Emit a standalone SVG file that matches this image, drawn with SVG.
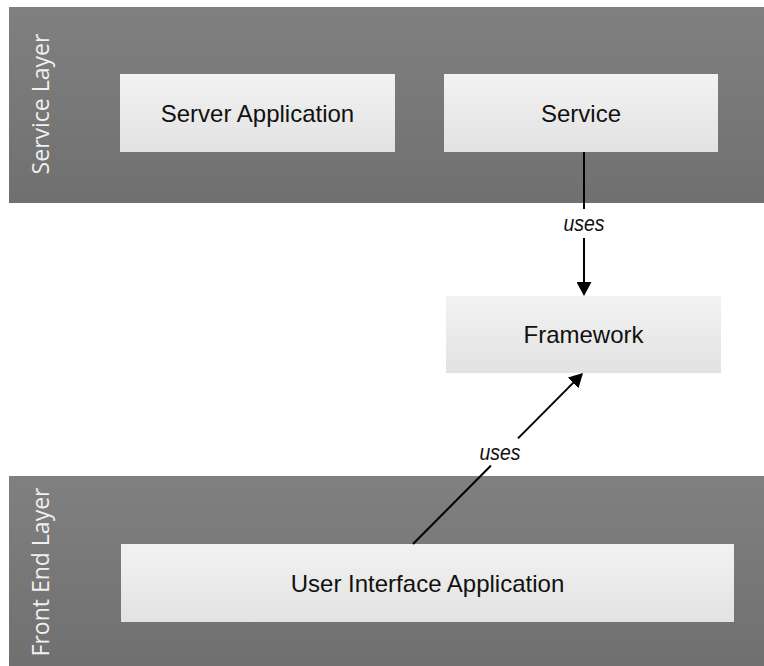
<svg xmlns="http://www.w3.org/2000/svg" width="764" height="666" viewBox="0 0 764 666">
  <defs>
    <linearGradient id="bandFill" x1="0" y1="0" x2="0" y2="1">
      <stop offset="0" stop-color="#808080"/>
      <stop offset="1" stop-color="#707070"/>
    </linearGradient>
    <linearGradient id="boxFill" x1="0" y1="0" x2="0" y2="1">
      <stop offset="0" stop-color="#f2f2f2"/>
      <stop offset="1" stop-color="#e2e2e2"/>
    </linearGradient>
    <marker id="arrow" viewBox="0 0 14 15" markerUnits="userSpaceOnUse" markerWidth="14" markerHeight="15" refX="12" refY="7.5" orient="auto">
      <path d="M0,0 L14,7.5 L0,15 z" fill="#000"/>
    </marker>
  </defs>
  <style>
    .band { fill: url(#bandFill); }
    .box { fill: url(#boxFill); }
    .layer-label { font-family: "Open Sans", "DejaVu Sans", sans-serif; font-size: 23px; fill: #f0f0f0; text-anchor: middle; }
    .label { font-family: "Liberation Sans", Arial, sans-serif; font-size: 24px; fill: #111; text-anchor: middle; }
    .edge { stroke: #000; stroke-width: 2; fill: none; }
    .edge-label { font-family: "Liberation Sans", Arial, sans-serif; font-size: 22px; font-style: italic; fill: #111; text-anchor: middle; }
  </style>

  <!-- Layer bands -->
  <g id="service-layer">
    <rect class="band" x="9" y="7" width="755" height="196"/>
    <text class="layer-label" transform="translate(49,104) rotate(-90)">Service Layer</text>
  </g>
  <g id="front-end-layer">
    <rect class="band" x="9" y="476" width="755" height="190"/>
    <text class="layer-label" transform="translate(49,572) rotate(-90)">Front End Layer</text>
  </g>

  <!-- Component nodes -->
  <g id="server-application">
    <rect class="box" x="120" y="74" width="275" height="78"/>
    <text class="label" x="257.5" y="121.5">Server Application</text>
  </g>
  <g id="service">
    <rect class="box" x="444" y="74" width="274" height="78"/>
    <text class="label" x="581" y="121.5">Service</text>
  </g>
  <g id="framework">
    <rect class="box" x="446" y="296" width="275" height="77"/>
    <text class="label" x="583.5" y="343">Framework</text>
  </g>
  <g id="user-interface-application">
    <rect class="box" x="121" y="544" width="613" height="78"/>
    <text class="label" x="427.5" y="591.5">User Interface Application</text>
  </g>

  <!-- Connectors -->
  <g id="connectors">
    <line class="edge" x1="584" y1="152" x2="584" y2="209"/>
    <line class="edge" x1="584" y1="238" x2="584" y2="294" marker-end="url(#arrow)"/>
    <text class="edge-label" x="584" y="231" textLength="41" lengthAdjust="spacingAndGlyphs">uses</text>

    <line class="edge" x1="413" y1="544" x2="491" y2="465.5"/>
    <line class="edge" x1="518" y1="438.4" x2="581.6" y2="374.4" marker-end="url(#arrow)"/>
    <text class="edge-label" x="500" y="460" textLength="41" lengthAdjust="spacingAndGlyphs">uses</text>
  </g>
</svg>
